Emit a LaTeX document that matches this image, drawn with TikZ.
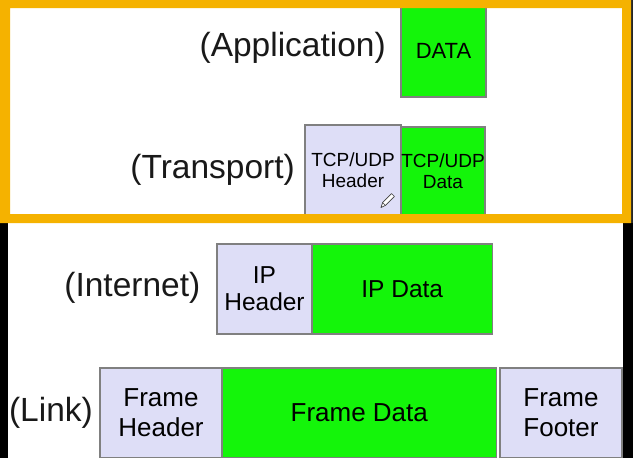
\documentclass[tikz,border=0pt]{standalone}
\usepackage{fontspec}
\setmainfont{Liberation Sans}
\definecolor{grn}{RGB}{20,245,10}
\definecolor{lav}{RGB}{222,222,247}
\definecolor{bordergray}{RGB}{128,128,128}
\definecolor{orangeframe}{RGB}{245,178,0}
\begin{document}
\begin{tikzpicture}[x=1pt,y=-1pt,
  pbox/.style={draw=bordergray, line width=1.2pt, inner sep=0pt, outer sep=0pt, anchor=north west, align=center, text=black},
  hdr/.style={pbox, fill=lav},
  dat/.style={pbox, fill=grn},
  lbl/.style={anchor=east, inner sep=0pt, font=\fontsize{33.5}{36}\selectfont, text=black!90},
  fsmall/.style={font=\fontsize{19}{21.5}\selectfont},
  fmid/.style={font=\fontsize{24.5}{27}\selectfont},
  fbig/.style={font=\fontsize{26}{30}\selectfont}]
\useasboundingbox (0,0) rectangle (633,458);
\fill[white] (0,0) rectangle (633,458);
\fill[black] (0,223) rectangle (8,458);
\fill[black] (622.5,223) rectangle (633,458);
\fill[black!85] (631,0) rectangle (633,223);

% Application
\node[lbl] (lapp) at (386,48) {(Application)};
\node[dat, minimum width=85pt, minimum height=92pt, font=\fontsize{22}{24}\selectfont] (data) at (401,5) {DATA};

% Transport
\node[lbl] (ltr) at (295,170) {(Transport)};
\node[hdr, fsmall, minimum width=96pt, minimum height=90pt] (tcph) at (305,125) {TCP/UDP\\Header};
\node[dat, fsmall, minimum width=84pt, minimum height=88pt] (tcpd) at (401,127) {TCP/UDP\\Data};

% pencil icon
\filldraw[fill=white, draw=black!75, line width=0.7pt, line join=round]
  (381,207.5) -- (385.4,205.4) -- (394.4,196.4) -- (391.6,193.6) -- (382.6,202.6) -- cycle;
\draw[black!75, line width=0.6pt] (382.6,202.6) -- (385.4,205.4);

% Internet
\node[lbl] (lint) at (200.5,288) {(Internet)};
\node[hdr, fmid, minimum width=95pt, minimum height=90pt] (iph) at (217,244) {IP\\Header};
\node[dat, fmid, minimum width=180.5pt, minimum height=90pt] (ipd) at (312,244) {IP Data};

% Link
\node[lbl] (llink) at (93,413) {(Link)};
\node[hdr, fbig, minimum width=122pt, minimum height=90pt] (fh) at (100,368) {Frame\\Header};
\node[dat, fbig, minimum width=274.5pt, minimum height=90pt] (fd) at (222,368) {Frame Data};
\node[hdr, fbig, minimum width=122pt, minimum height=90pt] (ff) at (500,368) {Frame\\Footer};

% orange frame
\fill[orangeframe, even odd rule] (0,0) rectangle (631,223) (10,8) rectangle (622,214);
\end{tikzpicture}
\end{document}
